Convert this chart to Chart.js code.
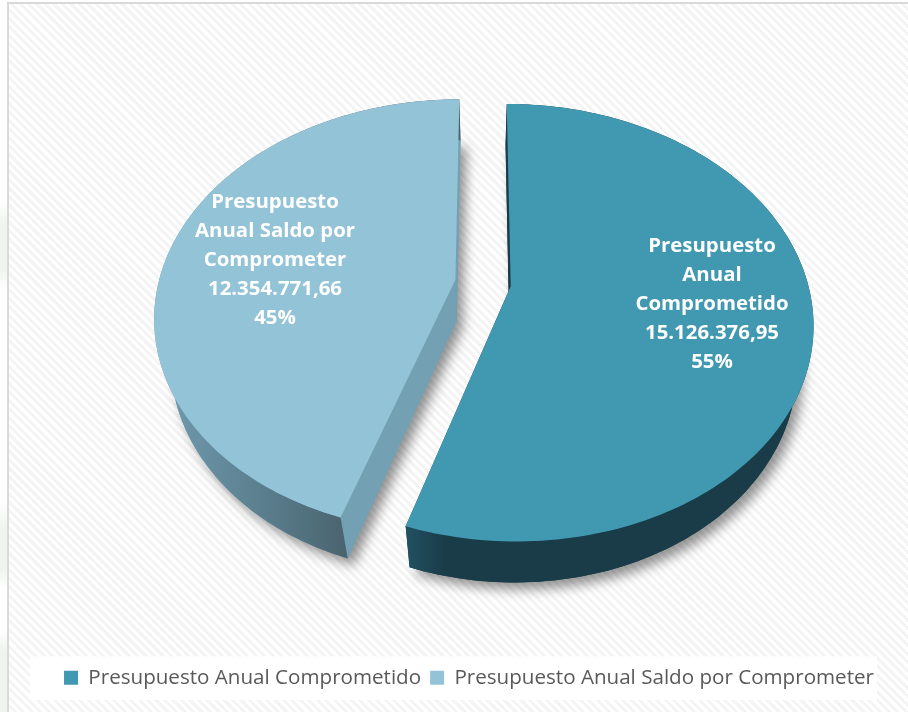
<!DOCTYPE html>
<html>
<head>
<meta charset="utf-8">
<script src="https://cdn.jsdelivr.net/npm/chart.js@4"></script>
<style>
html,body{margin:0;padding:0;width:908px;height:712px;overflow:hidden;background:#fff}
#frame{position:absolute;left:7px;top:2px;width:901px;height:710px;box-sizing:border-box;
  border-left:2px solid #d9d9d9;border-top:2px solid #d9d9d9;
  background:repeating-linear-gradient(45deg,#fff 0,#fff 3px,#f4f4f4 3px,#f4f4f4 6px)}
#strip{position:absolute;left:0;top:0;width:7px;height:712px;
  background:linear-gradient(#fff 0,#fff 200px,#eff5ee 225px,#eff5ee 270px,#fff 290px,#fff 500px,#eff5ee 530px,#eff5ee 570px,#fff 590px,#fff 630px,#eff5ee 650px,#eff5ee 712px)}
canvas{position:absolute;left:0;top:0}
</style>
</head>
<body>
<div id="strip"></div>
<div id="frame"></div>
<canvas id="c" width="908" height="712"></canvas>
<script>
const categories = ['Presupuesto Anual Comprometido', 'Presupuesto Anual Saldo por Comprometer'];
const labelLines = [['Presupuesto', 'Anual', 'Comprometido'], ['Presupuesto', 'Anual Saldo por', 'Comprometer']];
const values = [15126376.95, 12354771.66];
const colors = ['#4098B1', '#93C3D6'];
const cutColors = ['#1A3C48', '#73A0B2'];
const wallColors = [['#215060', '#1A3C48', '#1A3C48'], ['#6F9BAE', '#5B7F8F', '#4A646F']];
const wallStops = [[408, 445, 800], [165, 260, 345]];
const labelPos = [[712, 304], [275, 260]];

const view = { cx: 483, cy: 283, ratioY: 0.7124, persp: 0.1667, shrink: 0.95, depth: 41 };

function project(el, ang, shift) {
  const R = el.outerRadius, mid = (el.startAngle + el.endAngle) / 2, d = el.options.offset / R;
  const u = shift ? d * Math.cos(mid) : Math.cos(ang) + d * Math.cos(mid);
  const v = shift ? d * Math.sin(mid) : Math.sin(ang) + d * Math.sin(mid);
  const w = 1 - view.persp * v;
  return [view.cx + R * u / w, view.cy + R * view.ratioY * v / w];
}
const lower = p => [view.cx + view.shrink * (p[0] - view.cx), p[1] + view.depth];
function poly(ctx, pts) {
  ctx.beginPath();
  pts.forEach((p, i) => i ? ctx.lineTo(p[0], p[1]) : ctx.moveTo(p[0], p[1]));
  ctx.closePath();
}

const pie3d = {
  id: 'pie3d',
  beforeDraw(chart) {
    const l = chart.legend, ctx = chart.ctx;
    ctx.save();
    ctx.fillStyle = '#fff';
    ctx.fillRect(30, l.top - 2, 847, l.height + 4);
    ctx.restore();
  },
  beforeDatasetDraw(chart) {
    const ctx = chart.ctx, arcs = chart.getDatasetMeta(0).data;
    arcs.forEach((el, i) => {
      const N = 160, rim = [];
      for (let k = 0; k <= N; k++) rim.push(project(el, el.startAngle + (el.endAngle - el.startAngle) * k / N));
      const apex = project(el, 0, true);
      const lowRim = rim.map(lower), lowApex = lower(apex);
      ctx.save();
      ctx.shadowColor = 'rgba(0,0,0,0.42)';
      ctx.shadowBlur = 12;
      ctx.shadowOffsetX = 6;
      ctx.shadowOffsetY = 7;
      ctx.fillStyle = cutColors[i];
      poly(ctx, [lowApex, ...lowRim]);
      ctx.fill();
      ctx.restore();
      ctx.fillStyle = cutColors[i];
      poly(ctx, [apex, rim[0], lowRim[0], lowApex]); ctx.fill();
      poly(ctx, [apex, rim[N], lowRim[N], lowApex]); ctx.fill();
      const g = ctx.createLinearGradient(wallStops[i][0], 0, wallStops[i][2], 0);
      const span = wallStops[i][2] - wallStops[i][0];
      wallColors[i].forEach((c, k) => g.addColorStop((wallStops[i][k] - wallStops[i][0]) / span, c));
      ctx.fillStyle = g;
      poly(ctx, [...rim, ...lowRim.slice().reverse()]);
      ctx.fill();
      ctx.fillStyle = el.options.backgroundColor;
      poly(ctx, [apex, ...rim]);
      ctx.fill();
    });
    return false;
  },
  afterDatasetsDraw(chart) {
    const ctx = chart.ctx, total = values.reduce((a, b) => a + b, 0);
    ctx.save();
    ctx.fillStyle = '#fff';
    ctx.textAlign = 'center';
    ctx.textBaseline = 'middle';
    ctx.font = 'bold 20.4px "Open Sans"';
    values.forEach((v, i) => {
      const lines = [...labelLines[i],
        v.toLocaleString('es-ES', { minimumFractionDigits: 2, maximumFractionDigits: 2 }),
        Math.round(v / total * 100) + '%'];
      lines.forEach((t, k) => ctx.fillText(t, labelPos[i][0], labelPos[i][1] + (k - 2) * 29));
    });
    ctx.restore();
  }
};

new Chart(document.getElementById('c'), {
  type: 'pie',
  data: {
    labels: categories,
    datasets: [{ data: values, backgroundColor: colors, borderWidth: 0, offset: 28 }]
  },
  options: {
    responsive: false,
    animation: false,
    radius: 297,
    layout: { padding: { left: 30, right: 0, top: 0, bottom: 14 } },
    plugins: {
      tooltip: { enabled: false },
      legend: {
        position: 'bottom',
        labels: { boxWidth: 14, boxHeight: 14, padding: 9, color: '#595959', font: { family: '"Open Sans"', size: 20.6 } }
      }
    }
  },
  plugins: [pie3d]
});
</script>
</body>
</html>
